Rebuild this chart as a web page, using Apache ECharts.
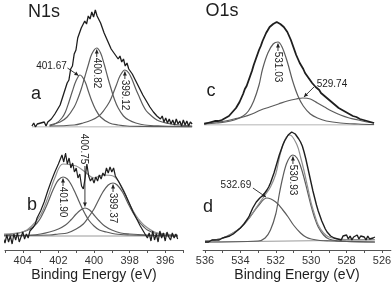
<!DOCTYPE html>
<html><head><meta charset="utf-8">
<script src="https://cdn.jsdelivr.net/npm/echarts@6/dist/echarts.min.js"></script>
<style>html,body{margin:0;padding:0;background:#fff}#c{width:392px;height:285px}</style>
</head><body><div id="c"></div>
<script>
// ---------- Panel a : N1s ----------
const aStart = 404.4, aStep = 0.1;
const aSignal = [1,4,0,3,1,4,2,5,1,5, 3,8,7,13,12,19,22,24,33,34, 44,47,58,61,73,77,89,90,99,97,
  106,103,111,108,115,110,117,111,113,104, 103,94,95,86,87,78,80,73,75,68, 71,65,68,61,64,58,60,53,55,46,
  47,39,39,32,33,26,27,20,21,15, 17,11,13,8,11,5,9,4,8,3, 7,2,8,3,6,1,7,2,6,1, 5,3];
const a1Energy = [403.4,403.0,402.7,402.5,402.3,402.1,401.9,401.67,401.4,401.2,401.0,400.8,400.5,400.0,399.5,399.0,398.0,397.0,395.3];
const a1Int    = [1,4,9,15,25,36,46,52,46,36,26,18,10,4,2,1,0.5,0.3,0];
const a2Energy = [403.4,402.8,402.4,402.0,401.8,401.6,401.4,401.2,401.0,400.72,400.5,400.3,400.1,399.9,399.7,399.5,399.2,398.9,398.5,398.0,397.0,396.0,395.3];
const a2Int    = [2,5,10,20,28,38,50,62,73,79,74,63,50,38,27,19,11,7,4,2,1,0.5,0.3];
const a3Energy = [403.4,402.0,401.5,401.0,400.6,400.3,400.0,399.8,399.6,399.4,399.12,398.9,398.7,398.5,398.3,398.1,397.9,397.6,397.3,397.0,396.5,396.0,395.3];
const a3Int    = [1,2,4,7,11,17,25,33,42,51,57,54,47,38,30,22,16,11,7,5,3,2,1];
const aBaseEnergy = [404.4, 395.3];
const aBaseInt = [0, 0];

// ---------- Panel b : N1s ----------
const bStart = 405.1, bStep = 0.1;
const bSignal = [-2,-7,1,-6,0,-8,2,-4,3,-6, -1,4,-3,2,-2,5,3,9,12,18, 17,25,27,34,36,45,47,55,56,64,
  62,72,70,81,74,83,72,78,68,73, 64,68,58,62,50,47,58,72,60,55, 58,53,59,55,61,57,63,60,68,63,
  69,64,68,60,62,54,55,47,46,40, 38,32,31,24,23,17,16,10,9,4, 4,-2,3,-5,5,-4,2,-6,5,-2, 3,-5,4,-1,-4,3,-2,2,-3];
const b1Energy = [405.1,404.5,404.0,403.5,403.2,403.0,402.8,402.6,402.4,402.2,402.0,401.74,401.5,401.3,401.1,400.9,400.7,400.5,400.3,400.0,399.7,399.3,398.8,398.0,397.0,395.3];
const b1Int    = [1,2,4,8,13,18,25,33,42,50,56,59,57,52,45,37,29,22,16,10,6,4,2,1,0.5,0];
const b2Energy = [405.1,403.5,403.0,402.5,402.0,401.6,401.3,401.0,400.75,400.51,400.25,400.0,399.7,399.4,399.0,398.5,398.0,397.0,396.0,395.3];
const b2Int    = [0.5,1,2,4,7,11,16,22,26,28,26,21,15,10,6,3,2,1,0.5,0.3];
const b3Energy = [405.1,402.5,402.0,401.5,401.0,400.6,400.3,400.0,399.8,399.5,399.2,398.93,398.7,398.4,398.1,397.8,397.5,397.2,397.0,396.6,396.0,395.3];
const b3Int    = [0.3,1,2,3,7,12,19,27,34,44,51,53,51,44,33,23,15,9,6,3,1,0.5];
const bFitEnergy = [405.1,404.0,403.5,403.0,402.6,402.2,401.74,401.0,400.5,400.0,399.5,398.93,398.4,398.1,397.8,397.5,397.2,396.6,396.0,395.3];
const bFitInt    = [2,4,10,21,38,58,72,70,64,58,61,60,48,36,25,17,11,4,2,1];
const bBaseEnergy = [405.1, 395.3];
const bBaseInt = [0, 0];

// ---------- Panel c : O1s ----------
const cStart = 535.2, cStep = 0.1;
const cSignal = [1,1,2,2,3,3,4,4,4,5, 5,6,7,7,9,11,13,15,17,20, 23,27,31,36,39,44,49,54,60,65,
  70,75,79,84,88,92,95,98,99,101, 102,103,102,101,100,98,97,93,89,85, 80,75,70,66,62,59,56,52,50,47,
  45,42,40,38,36,35,32,30,29,27, 26,24,23,22,20,18,17,16,15,14, 13,12,11,11,9,8,8,7,6,6, 5,5,4,4,3,3,2];
const c1Energy = [535.2,534.5,534.0,533.5,533.0,532.7,532.4,532.1,531.9,531.6,531.3,531.03,530.8,530.5,530.2,529.9,529.6,529.2,528.8,528.3,527.5,526.5,525.6];
const c1Int    = [1,2,3,5,9,14,24,40,56,72,81,83,78,63,44,29,19,11,7,4,2,1,0.5];
const c2Energy = [535.2,534.5,534.0,533.5,533.0,532.5,532.0,531.5,531.0,530.5,530.0,529.62,529.2,528.8,528.4,528.0,527.5,527.0,526.5,526.0,525.6];
const c2Int    = [2,3,4,6,8,11,15,18,21,24,26,27,26,22,18,14,10,7,5,3,2];
const cBaseEnergy = [535.2, 525.6];
const cBaseInt = [0, 0];

// ---------- Panel d : O1s ----------
const dStart = 536.0, dStep = 0.1;
const dSignal = [0,1,0,1,2,1,2,3,2,3, 4,3,5,5,6,7,8,9,11,12, 14,15,18,20,23,26,30,34,37,40,
  42,44,45,47,49,52,55,59,64,69, 75,81,87,92,97,101,104,107,109,110, 109,108,106,103,100,96,90,83,75,67,
  59,51,44,37,31,26,21,17,13,10, 8,6,5,4,6,3,5,2,6,4, 7,3,6,2,5,4,7,3,6,4, 5,2,6,3,5,4,5];
const d1Energy = [536.0,535.5,535.0,534.5,534.0,533.5,533.0,532.5,532.0,531.6,531.3,531.0,530.6,530.3,530.0,529.5,529.0,528.0,526.4];
const d1Int    = [1,2,4,8,14,24,36,44,40,32,25,17,9,5,3,1.5,1,0.5,0];
const d2Energy = [536.0,533.0,532.6,532.3,532.0,531.8,531.6,531.4,531.2,531.03,530.8,530.6,530.4,530.2,530.0,529.8,529.6,529.3,529.0,528.5,528.0,526.4];
const d2Int    = [0,1,4,12,28,48,65,78,85,87,84,76,64,50,36,24,15,7,3,1,0.5,0];
const dFitEnergy = [536.0,535.0,534.0,533.5,533.0,532.6,532.3,532.0,531.8,531.6,531.4,531.2,530.8,530.6,530.4,530.2,530.0,529.8,529.6,529.3,529.0,528.5,528.0,527.0,526.4];
const dFitInt    = [1,4,14,24,37,47,55,68,84,97,105,107,97,85,71,55,39,27,17,9,5,3,2.5,2.5,2.5];
const dBaseEnergy = [536.0, 526.4];
const dBaseInt = [0, 2];

// ---------- Axis tick labels ----------
const nTicks = [395,396,397,398,399,400,401,402,403,404,405];
const nLabels = [396,398,400,402,404];
const oTicks = [526,527,528,529,530,531,532,533,534,535,536];
const oLabels = [526,528,530,532,534,536];
const axisTitle = 'Binding Energy (eV)';

// ---------- Annotations: [panel, text, energy, intensity, kind] ----------
const annotations = [
  [0, '401.67', 401.70, 51, 'left'],
  [0, '400.82', 400.72, 79, 'below'],
  [0, '399.12', 399.12, 57, 'below'],
  [1, '400.75', 400.51, 28, 'above'],
  [1, '401.90', 401.74, 59, 'below'],
  [1, '399.37', 398.93, 53, 'below'],
  [2, '531.03', 531.03, 83, 'below'],
  [2, '529.74', 529.62, 27, 'right'],
  [3, '532.69', 532.50, 44, 'left2'],
  [3, '530.93', 531.03, 87, 'below']
];

// ---------- build ----------
const FONT = '"Liberation Sans", Arial, sans-serif';
const INK = '#1e1e1e';
function zip(e, v){ return e.map((x,i)=>[x, v[i]]); }
function fromStep(start, step, v){ return v.map((y,i)=>[+(start - i*step).toFixed(2), y]); }

function sig(g, data, w){ return {type:'line', xAxisIndex:g, yAxisIndex:g, data, showSymbol:false, silent:true,
  lineStyle:{color:INK, width:w||1.2}, z:5}; }
function comp(g, data){ return {type:'line', xAxisIndex:g, yAxisIndex:g, data, showSymbol:false, smooth:0.35, silent:true,
  lineStyle:{color:'#5c5c5c', width:1.2}, z:3}; }
function fit(g, data){ return {type:'line', xAxisIndex:g, yAxisIndex:g, data, showSymbol:false, smooth:0.35, silent:true,
  lineStyle:{color:'#8f8f8f', width:1.2}, z:4}; }
function base(g, data){ return {type:'line', xAxisIndex:g, yAxisIndex:g, data, showSymbol:false, silent:true,
  lineStyle:{color:'#9a9a9a', width:1}, z:2}; }

const series = [
  base(0, zip(aBaseEnergy, aBaseInt)), comp(0, zip(a1Energy,a1Int)), comp(0, zip(a2Energy,a2Int)), comp(0, zip(a3Energy,a3Int)),
  sig(0, fromStep(aStart,aStep,aSignal), 1.3),
  base(1, zip(bBaseEnergy, bBaseInt)), comp(1, zip(b1Energy,b1Int)), comp(1, zip(b2Energy,b2Int)), comp(1, zip(b3Energy,b3Int)),
  fit(1, zip(bFitEnergy, bFitInt)),
  sig(1, fromStep(bStart,bStep,bSignal), 1.2),
  base(2, zip(cBaseEnergy, cBaseInt)), comp(2, zip(c1Energy,c1Int)), comp(2, zip(c2Energy,c2Int)),
  sig(2, fromStep(cStart,cStep,cSignal), 1.8),
  base(3, zip(dBaseEnergy, dBaseInt)), comp(3, zip(d1Energy,d1Int)), comp(3, zip(d2Energy,d2Int)),
  fit(3, zip(dFitEnergy, dFitInt)),
  sig(3, fromStep(dStart,dStep,dSignal), 1.4)
];

function hiddenX(g, min, max){ return {type:'value', gridIndex:g, min, max, inverse:true, show:false}; }
function shownX(g, min, max, ticks, labels){
  return {type:'value', gridIndex:g, min, max, inverse:true,
    axisLine:{show:true, onZero:false, lineStyle:{color:'#555', width:1.2}},
    axisTick:{show:true, length:3, customValues:ticks, lineStyle:{color:'#555', width:1}},
    axisLabel:{show:true, customValues:labels, fontSize:11, color:'#333', fontFamily:FONT, margin:5},
    splitLine:{show:false},
    name:axisTitle, nameLocation:'middle', nameGap:18,
    nameTextStyle:{fontSize:14, color:INK, fontFamily:FONT}};
}
function hiddenY(g, min, max){ return {type:'value', gridIndex:g, min, max, show:false}; }

const chart = echarts.init(document.getElementById('c'), null, {renderer:'canvas'});
chart.setOption({
  animation:false,
  backgroundColor:'#fff',
  grid:[
    {left:21.4, top:2, width:176, height:125, outerBoundsMode:'none'},
    {left:5, top:140, width:178, height:110, outerBoundsMode:'none'},
    {left:190, top:2, width:194.7, height:123, outerBoundsMode:'none'},
    {left:203.2, top:130, width:187.6, height:120, outerBoundsMode:'none'}
  ],
  xAxis:[
    hiddenX(0, 395, 405),
    shownX(1, 395, 405, nTicks, nLabels),
    hiddenX(2, 525, 536),
    shownX(3, 525.5, 536.1, oTicks, oLabels)
  ],
  yAxis:[ hiddenY(0,0,125), hiddenY(1,-14,96), hiddenY(2,0,123), hiddenY(3,-8,112) ],
  series
});

// ---------- text & arrows ----------
const G = [];
function txt(x, y, s, size, rot){
  G.push({type:'text', x, y, rotation:rot||0, z:20, style:{text:s, fontSize:size, fontFamily:FONT, fill:INK, align:'center', verticalAlign:'middle'}});
}
function arrow(x1, y1, x2, y2){
  G.push({type:'line', z:19, shape:{x1,y1,x2,y2}, style:{stroke:'#222', lineWidth:0.9}});
  const ang = Math.atan2(y2-y1, x2-x1), L = 4, W = 2;
  const bx = x2 - L*Math.cos(ang), by = y2 - L*Math.sin(ang);
  const nx = -Math.sin(ang)*W, ny = Math.cos(ang)*W;
  G.push({type:'polygon', z:19, shape:{points:[[x2,y2],[bx+nx,by+ny],[bx-nx,by-ny]]}, style:{fill:'#222'}});
}
txt(44, 12, 'N1s', 18); txt(222, 11, 'O1s', 18);
txt(36, 94, 'a', 18); txt(32, 205, 'b', 18); txt(211, 91, 'c', 18); txt(208, 207, 'd', 18);

annotations.forEach(([g, s, e, v, kind]) => {
  const p = chart.convertToPixel({gridIndex:g}, [e, v]);
  const tx = p[0], ty = p[1];
  if (kind === 'below') {
    arrow(tx, ty + 9, tx, ty + 1.5);
    txt(tx, ty + 9 + 16, s, 10, -Math.PI/2);
  } else if (kind === 'above') {
    arrow(tx, ty - 42, tx, ty - 1.5);
    txt(tx - 1, ty - 42 - 17, s, 10, -Math.PI/2);
  } else if (kind === 'left') {
    arrow(tx - 12, ty - 8, tx - 1, ty - 0.5);
    txt(tx - 28, ty - 10, s, 10);
  } else if (kind === 'left2') {
    arrow(tx - 14, ty - 10, tx - 1, ty - 1);
    txt(tx - 31, ty - 13, s, 10);
  } else if (kind === 'right') {
    arrow(tx + 11, ty - 11, tx + 1, ty - 1);
    txt(tx + 29, ty - 14, s, 10);
  }
});
chart.setOption({graphic:G});
</script></body></html>
